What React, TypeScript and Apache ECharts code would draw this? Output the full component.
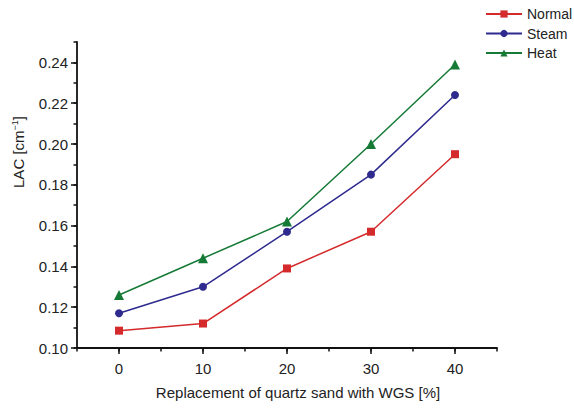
import React, { useEffect, useRef } from "react";
import * as echarts from "echarts";

const xValues = [0, 10, 20, 30, 40];
const normal = [0.1085, 0.112, 0.139, 0.157, 0.195];
const steam = [0.117, 0.13, 0.157, 0.185, 0.224];
const heat = [0.126, 0.144, 0.162, 0.2, 0.239];
const seriesNames = ["Normal", "Steam", "Heat"];
const colors = ["#d42a2c", "#2e2a8e", "#157a36"];
const xTitle = "Replacement of quartz sand with WGS [%]";

const FONT = "Liberation Sans, Arial, Helvetica, sans-serif";

export default function App() {
  const ref = useRef<HTMLDivElement>(null);
  useEffect(() => {
    if (!ref.current) return;
    const chart = echarts.init(ref.current, undefined, { renderer: "svg" });
    const axisLine = { show: true, onZero: false, lineStyle: { color: "#111", width: 1.8 } };
    const pair = (arr: number[]) => xValues.map((x, i) => [x, arr[i]]);
    const mk = (name: string, data: number[], color: string, symbol: string, size: number) => ({
      name,
      type: "line",
      xAxisIndex: 0,
      yAxisIndex: 0,
      data: pair(data),
      symbol,
      symbolSize: size,
      lineStyle: { color, width: 1.5 },
      itemStyle: { color },
      z: 5,
    });
    chart.setOption({
      animation: false,
      textStyle: { fontFamily: FONT },
      grid: [
        { left: 77, right: 77, top: 42, bottom: 60 },
        { left: 119, width: 336, top: 62.4, bottom: 60 },
      ],
      xAxis: [
        {
          type: "value",
          gridIndex: 0,
          min: -5,
          max: 45,
          interval: 5,
          axisLine,
          axisTick: { show: true, length: 3.5, lineStyle: { color: "#111", width: 1.5 } },
          axisLabel: { show: false },
          splitLine: { show: false },
        },
        {
          type: "value",
          gridIndex: 1,
          min: 0,
          max: 40,
          interval: 10,
          axisLine: { show: false, onZero: false },
          axisTick: { show: true, length: 6, lineStyle: { color: "#111", width: 1.5 } },
          axisLabel: { show: true, color: "#222", fontSize: 15, margin: 13, fontFamily: FONT },
          splitLine: { show: false },
        },
      ],
      yAxis: [
        {
          type: "value",
          gridIndex: 0,
          min: 0.1,
          max: 0.25,
          interval: 0.01,
          axisLine,
          axisTick: { show: true, length: 3.5, lineStyle: { color: "#111", width: 1.5 } },
          axisLabel: { show: false },
          splitLine: { show: false },
        },
        {
          type: "value",
          gridIndex: 1,
          min: 0.1,
          max: 0.24,
          interval: 0.02,
          offset: 42,
          axisLine: { show: false, onZero: false },
          axisTick: { show: true, length: 6, lineStyle: { color: "#111", width: 1.5 } },
          axisLabel: {
            show: true,
            color: "#222",
            fontSize: 15,
            margin: 9,
            fontFamily: FONT,
            formatter: (v: number) => v.toFixed(2),
          },
          splitLine: { show: false },
        },
      ],
      legend: {
        show: true,
        data: seriesNames,
        orient: "vertical",
        left: 485,
        top: 7,
        padding: 0,
        itemWidth: 36,
        itemHeight: 9,
        itemGap: 5.5,
        textStyle: { fontSize: 14, color: "#222", fontFamily: FONT },
      },
      graphic: [
        {
          type: "text",
          x: 18,
          y: 152,
          rotation: Math.PI / 2,
          style: {
            text: "{a|LAC [cm}{s|−1}{a|]}",
            align: "center",
            verticalAlign: "middle",
            fill: "#222",
            rich: {
              a: { fontSize: 15, fontFamily: FONT, fill: "#222", color: "#222" },
              s: { fontSize: 9, fontFamily: FONT, fill: "#222", color: "#222", verticalAlign: "top", padding: [0, 0, 6, 0] },
            },
          },
        },
        {
          type: "text",
          x: 298,
          y: 392,
          style: {
            text: xTitle,
            align: "center",
            verticalAlign: "middle",
            fill: "#222",
            fontSize: 15,
            fontFamily: FONT,
          },
        },
      ],
      series: [
        mk(seriesNames[0], normal, colors[0], "rect", 8),
        mk(seriesNames[1], steam, colors[1], "circle", 8),
        mk(seriesNames[2], heat, colors[2], "triangle", 10),
      ],
    });
    return () => chart.dispose();
  }, []);
  return <div ref={ref} style={{ width: 574, height: 408, position: "absolute", left: 0, top: 0 }} />;
}
